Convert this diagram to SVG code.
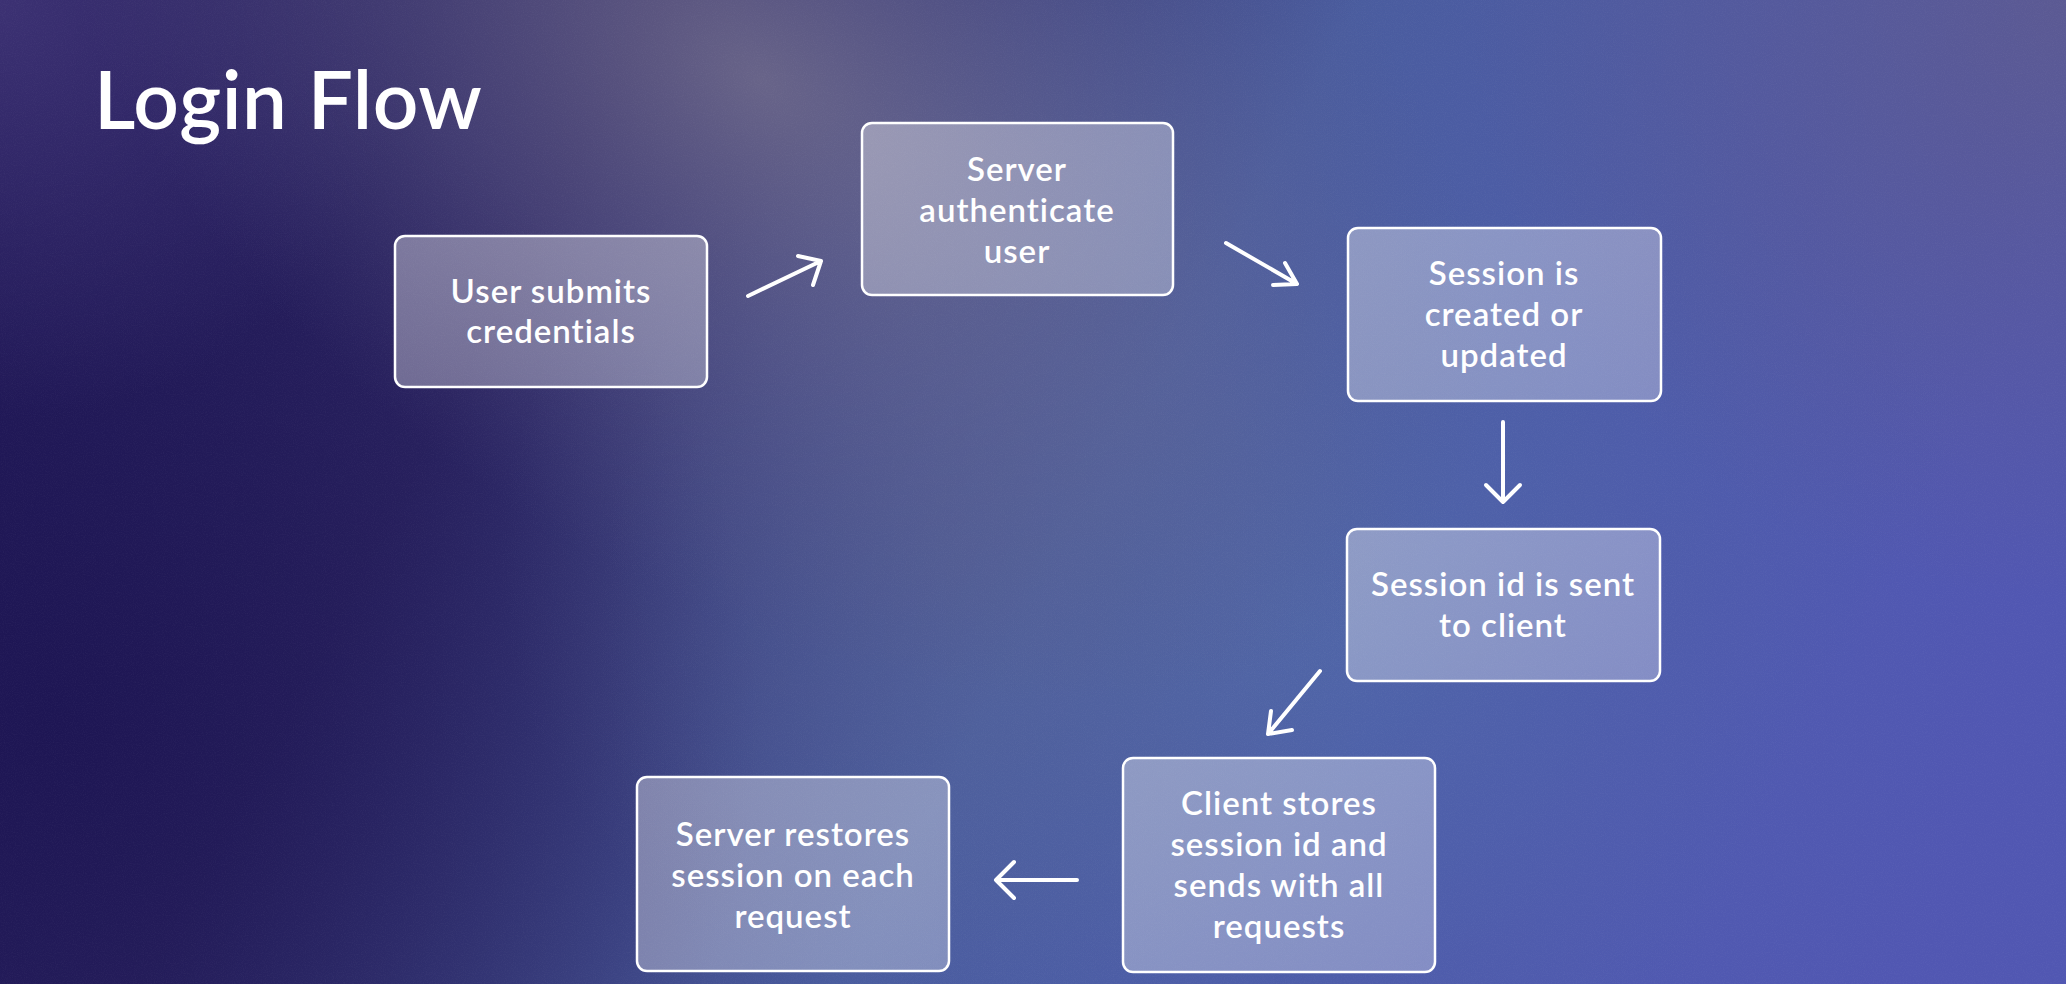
<svg xmlns="http://www.w3.org/2000/svg" width="2066" height="984" viewBox="0 0 2066 984">
<defs>
<linearGradient id="bg" x1="0" y1="0" x2="1" y2="0.25">
<stop offset="0" stop-color="#201757"/>
<stop offset="0.3" stop-color="#2c2562"/>
<stop offset="0.62" stop-color="#4a5c9e"/>
<stop offset="1" stop-color="#5157b2"/>
</linearGradient>
<radialGradient id="glow" cx="760" cy="80" r="820" gradientUnits="userSpaceOnUse" gradientTransform="rotate(35 760 80) translate(760 80) scale(1 0.6) translate(-760 -80)">
<stop offset="0" stop-color="#7f7a94" stop-opacity="0.7"/>
<stop offset="0.5" stop-color="#6a6790" stop-opacity="0.4"/>
<stop offset="1" stop-color="#5a5888" stop-opacity="0"/>
</radialGradient>
<radialGradient id="mid" cx="950" cy="560" r="450" gradientUnits="userSpaceOnUse">
<stop offset="0" stop-color="#5a6290" stop-opacity="0.45"/>
<stop offset="1" stop-color="#5a6290" stop-opacity="0"/>
</radialGradient>
<radialGradient id="blue" cx="1300" cy="620" r="700" gradientUnits="userSpaceOnUse">
<stop offset="0" stop-color="#5270ac" stop-opacity="0.55"/>
<stop offset="1" stop-color="#4a62a8" stop-opacity="0"/>
</radialGradient>
<radialGradient id="dark" cx="60" cy="720" r="700" gradientUnits="userSpaceOnUse">
<stop offset="0" stop-color="#1c1452" stop-opacity="0.85"/>
<stop offset="1" stop-color="#1c1452" stop-opacity="0"/>
</radialGradient>
<radialGradient id="tl" cx="0" cy="0" r="420" gradientUnits="userSpaceOnUse">
<stop offset="0" stop-color="#43387a" stop-opacity="0.8"/>
<stop offset="1" stop-color="#43387a" stop-opacity="0"/>
</radialGradient>
<radialGradient id="tr" cx="2066" cy="0" r="600" gradientUnits="userSpaceOnUse">
<stop offset="0" stop-color="#5e5a8c" stop-opacity="0.8"/>
<stop offset="1" stop-color="#5e5a8c" stop-opacity="0"/>
</radialGradient>
<linearGradient id="nodefill" x1="0" y1="0" x2="1" y2="1">
<stop offset="0" stop-color="#ffffff" stop-opacity="0.36"/>
<stop offset="1" stop-color="#ffffff" stop-opacity="0.3"/>
</linearGradient>
<filter id="noise" x="0" y="0" width="100%" height="100%">
<feTurbulence type="fractalNoise" baseFrequency="0.9" numOctaves="2" seed="3" result="n"/>
<feColorMatrix type="matrix" values="0 0 0 0 1  0 0 0 0 1  0 0 0 0 1  0 0 0 0.6 -0.25"/>
</filter>
</defs>
<style>
.node rect { fill: url(#nodefill); stroke: #ffffff; stroke-width: 2.5; }
.node text { font-family: "Lato", "Liberation Sans", sans-serif; font-size: 33px; letter-spacing: 1px; font-weight: 600; fill: #ffffff; text-anchor: middle; }
.title { font-family: "Lato", "Liberation Sans", sans-serif; font-size: 80px; letter-spacing: 0.5px; font-weight: 600; fill: #ffffff; }
#connectors path { fill: none; stroke: #ffffff; stroke-width: 4; stroke-linecap: round; stroke-linejoin: round; }
</style>
<rect x="0" y="0" width="2066" height="984" fill="url(#bg)"/>
<rect x="0" y="0" width="2066" height="984" fill="url(#dark)"/>
<rect x="0" y="0" width="2066" height="984" fill="url(#blue)"/>
<rect x="0" y="0" width="2066" height="984" fill="url(#mid)"/>
<rect x="0" y="0" width="2066" height="984" fill="url(#tl)"/>
<rect x="0" y="0" width="2066" height="984" fill="url(#tr)"/>
<rect x="0" y="0" width="2066" height="984" fill="url(#glow)"/>
<rect x="0" y="0" width="2066" height="984" filter="url(#noise)" opacity="0.12"/>

<text class="title" x="94" y="129">Login Flow</text>

<g id="n1" class="node">
<rect x="395" y="236" width="312" height="151" rx="10"/>
<text x="551" y="303">User submits</text>
<text x="551" y="343">credentials</text>
</g>
<g id="n2" class="node">
<rect x="862" y="123" width="311" height="172" rx="10"/>
<text x="1017" y="181">Server</text>
<text x="1017" y="222">authenticate</text>
<text x="1017" y="263">user</text>
</g>
<g id="n3" class="node">
<rect x="1348" y="228" width="313" height="173" rx="10"/>
<text x="1504" y="285">Session is</text>
<text x="1504" y="326">created or</text>
<text x="1504" y="367">updated</text>
</g>
<g id="n4" class="node">
<rect x="1347" y="529" width="313" height="152" rx="10"/>
<text x="1503" y="596">Session id is sent</text>
<text x="1503" y="637">to client</text>
</g>
<g id="n5" class="node">
<rect x="1123" y="758" width="312" height="214" rx="10"/>
<text x="1279" y="815">Client stores</text>
<text x="1279" y="856">session id and</text>
<text x="1279" y="897">sends with all</text>
<text x="1279" y="938">requests</text>
</g>
<g id="n6" class="node">
<rect x="637" y="777" width="312" height="194" rx="10"/>
<text x="793" y="846">Server restores</text>
<text x="793" y="887">session on each</text>
<text x="793" y="928">request</text>
</g>

<g id="connectors">
<path d="M748 296 L821 261 M798 256 L821 261 L813 285"/>
<path d="M1226 243 L1297 284 M1285 263 L1297 284 L1273 285"/>
<path d="M1503 422 L1503 502 M1486 485 L1503 502 L1520 485"/>
<path d="M1320 671 L1268 734 M1271 711 L1268 734 L1292 730"/>
<path d="M1077 880 L996 880 M1014 862 L996 880 L1014 898"/>
</g>
</svg>
